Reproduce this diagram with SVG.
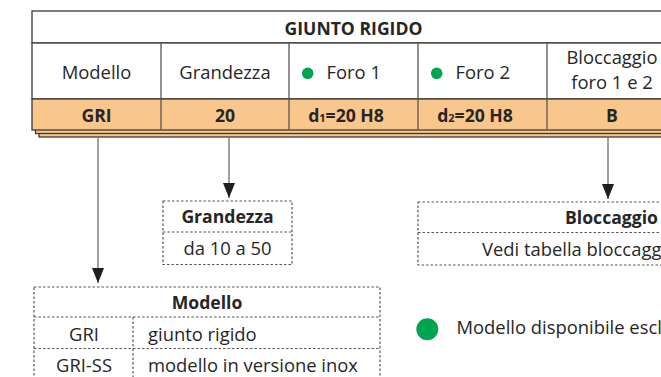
<svg xmlns="http://www.w3.org/2000/svg" width="661" height="377" viewBox="0 0 661 377">
  <defs>
    <marker id="arr" viewBox="0 0 15 12" markerWidth="15" markerHeight="12" refX="15" refY="6" orient="auto" markerUnits="userSpaceOnUse">
      <path d="M0,0 L15,6 L0,12 z" fill="#1e1e1e"/>
    </marker>
  </defs>
  <style>
    .t { font-family: "Open Sans", "Noto Sans", sans-serif; font-size: 18.4px; fill: #262626; }
    .b { font-family: "Open Sans", "Noto Sans", sans-serif; font-size: 17.6px; font-weight: bold; fill: #262626; }
    .c { text-anchor: middle; }
    .cell { fill: #ffffff; stroke: #3a3a3a; stroke-width: 1.3; }
    .org { fill: #f9c68c; stroke: #3a3a3a; stroke-width: 1.3; }
    .div { stroke: #555555; stroke-width: 1.3; }
    .dash { fill: none; stroke: #555555; stroke-width: 1.2; stroke-dasharray: 2.5 2; }
    .con { stroke: #808080; stroke-width: 1.5; fill: none; }
    .dot { fill: #00a550; }
  </style>
  <rect width="661" height="377" fill="#ffffff"/>

  <g id="table">
    <rect class="org" x="39" y="110" width="700" height="27"/>
    <rect class="org" x="35.5" y="106" width="700" height="27.5"/>
    <rect class="cell" x="32" y="11" width="700" height="32"/>
    <rect class="cell" x="32" y="43" width="700" height="56"/>
    <rect class="org" x="32" y="99" width="700" height="31"/>
    <line class="div" x1="161" y1="43" x2="161" y2="130"/>
    <line class="div" x1="289" y1="43" x2="289" y2="130"/>
    <line class="div" x1="418" y1="43" x2="418" y2="130"/>
    <line class="div" x1="547" y1="43" x2="547" y2="130"/>
    <text class="b c" x="353.5" y="35">GIUNTO RIGIDO</text>
    <text class="t c" x="96.5" y="79">Modello</text>
    <text class="t c" x="225" y="79">Grandezza</text>
    <circle class="dot" cx="307.7" cy="73.3" r="5.8"/>
    <text class="t" x="326.5" y="79">Foro 1</text>
    <circle class="dot" cx="436.7" cy="73.3" r="5.8"/>
    <text class="t" x="455.5" y="79">Foro 2</text>
    <text class="t c" x="612" y="64">Bloccaggio</text>
    <text class="t c" x="612" y="89">foro 1 e 2</text>
    <text class="b c" x="96.5" y="122">GRI</text>
    <text class="b c" x="225" y="122">20</text>
    <text class="b c" x="346" y="122">d<tspan font-size="11">1</tspan>=20 H8</text>
    <text class="b c" x="475" y="122">d<tspan font-size="11">2</tspan>=20 H8</text>
    <text class="b c" x="612" y="122">B</text>
  </g>

  <g id="connectors">
    <line class="con" x1="98" y1="137" x2="98" y2="283" marker-end="url(#arr)"/>
    <line class="con" x1="229" y1="137" x2="229" y2="198" marker-end="url(#arr)"/>
    <line class="con" x1="608" y1="137" x2="608" y2="199" marker-end="url(#arr)"/>
  </g>

  <g id="grandezza">
    <rect class="dash" x="163" y="201" width="129" height="63.5"/>
    <line class="dash" x1="163" y1="232" x2="292" y2="232"/>
    <text class="b c" x="227.5" y="223">Grandezza</text>
    <text class="t c" x="227.5" y="255">da 10 a 50</text>
  </g>

  <g id="bloccaggio">
    <rect class="dash" x="418" y="202" width="300" height="63"/>
    <line class="dash" x1="418" y1="232.5" x2="718" y2="232.5"/>
    <text class="b" x="565" y="224">Bloccaggio</text>
    <text class="t" x="482" y="256">Vedi tabella bloccagg</text>
  </g>

  <g id="modello">
    <rect class="dash" x="34" y="287" width="346" height="110"/>
    <line class="dash" x1="34" y1="317" x2="380" y2="317"/>
    <line class="dash" x1="34" y1="348.5" x2="380" y2="348.5"/>
    <line class="dash" x1="133" y1="317" x2="133" y2="397"/>
    <text class="b c" x="207" y="309">Modello</text>
    <text class="t c" x="84" y="341">GRI</text>
    <text class="t" x="148" y="341">giunto rigido</text>
    <text class="t c" x="84" y="372">GRI-SS</text>
    <text class="t" x="148" y="372">modello in versione inox</text>
  </g>

  <g id="legend">
    <circle class="dot" cx="427.3" cy="329.3" r="11"/>
    <text class="t" x="456.5" y="334">Modello disponibile escl</text>
  </g>
</svg>
